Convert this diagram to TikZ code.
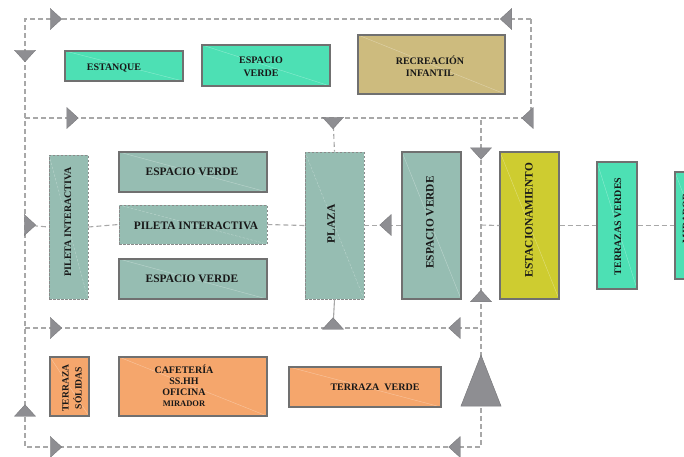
\documentclass[tikz,border=0pt]{standalone}
\usepackage{fontspec}
\setmainfont{Liberation Serif}
\usetikzlibrary{calc}
\definecolor{turq}{HTML}{4DE0B4}
\definecolor{grteal}{HTML}{96BDB2}
\definecolor{tan}{HTML}{CDBB7E}
\definecolor{olive}{HTML}{CECC30}
\definecolor{orng}{HTML}{F5A66C}
\definecolor{bgray}{HTML}{707070}
\definecolor{dgray}{HTML}{8A8A8A}
\definecolor{lgray}{HTML}{A8A8A8}
\definecolor{agray}{HTML}{8E8E92}
\definecolor{txt}{HTML}{181818}
\tikzset{
  dline/.style={draw=lgray, line width=1.1pt, dash pattern=on 5pt off 3pt},
  sline/.style={draw=lgray, line width=1.1pt},
  box/.style={draw=bgray, line width=1.3pt, inner sep=0pt,
    path picture={\draw[white, opacity=.35, line width=.4pt]
      (path picture bounding box.north west) -- (path picture bounding box.south east);}},
  dbox/.style={box, draw=dgray, line width=0.9pt, dash pattern=on 2.5pt off 1.5pt},
  lbl/.style={font=\fontsize{10}{11.7}\selectfont\bfseries, text=txt, inner sep=0pt, align=center},
  big/.style={lbl, font=\fontsize{11.4}{13}\selectfont\bfseries},
  tri/.pic={\filldraw[fill=agray, draw=agray!85!black, line width=0.4pt]
      (-5.75,-10.5) -- (5.75,0) -- (-5.75,10.5) -- cycle;}
}
\begin{document}
\begin{tikzpicture}[x=1pt,y=-1pt]
\useasboundingbox (0,0) rectangle (684,456);
\clip (0,0) rectangle (684,456);

% boxes
\node[box, fill=turq, minimum width=118pt, minimum height=30pt] (estanque) at (124,66) {};
\node[box, fill=turq, minimum width=128pt, minimum height=41pt] (ev1) at (266,65.5) {};
\node[box, fill=tan, minimum width=147pt, minimum height=59pt] (recre) at (431.5,64.5) {};
\node[dbox, fill=grteal, minimum width=39pt, minimum height=144pt] (pilv) at (68.5,227) {};
\node[box, fill=grteal, minimum width=148pt, minimum height=40pt] (ev2) at (193,172) {};
\node[dbox, fill=grteal, minimum width=148pt, minimum height=39pt] (pilh) at (193,224.5) {};
\node[box, fill=grteal, minimum width=148pt, minimum height=40pt] (ev3) at (193,279) {};
\node[dbox, fill=grteal, minimum width=59pt, minimum height=147pt] (plaza) at (334.5,225.5) {};
\node[box, fill=grteal, minimum width=59pt, minimum height=147pt] (ev4) at (431.5,225.5) {};
\node[box, fill=olive, minimum width=59pt, minimum height=147pt] (estac) at (529.5,225.5) {};
\node[box, fill=turq, minimum width=40pt, minimum height=127pt] (terr) at (617,225.5) {};
\node[box, fill=turq, minimum width=40pt, minimum height=107pt] (mir) at (695,225.5) {};
\node[box, fill=orng, minimum width=39pt, minimum height=59pt] (tsol) at (69.5,386.5) {};
\node[box, fill=orng, minimum width=148pt, minimum height=59pt] (cafe) at (193,386.5) {};
\node[box, fill=orng, minimum width=152pt, minimum height=40pt] (tverde) at (365,387) {};

% labels
\node[lbl] (estanque-t) at (114,68) {ESTANQUE};
\node[lbl, font=\fontsize{10}{12.5}\selectfont\bfseries] (ev1-t) at (261,67) {ESPACIO\\VERDE};
\node[lbl] (recre-t) at (430,66.5) {RECREACIÓN\\INFANTIL};
\node[lbl, rotate=90] (pilv-t) at (68,222) {PILETA INTERACTIVA};
\node[big] (ev2-t) at (192,171.5) {ESPACIO VERDE};
\node[big] (pilh-t) at (196,226) {PILETA INTERACTIVA};
\node[big] (ev3-t) at (192,278.5) {ESPACIO VERDE};
\node[big, rotate=90] (plaza-t) at (331,224) {PLAZA};
\node[big, rotate=90] (ev4-t) at (430,222.5) {ESPACIO VERDE};
\node[big, rotate=90] (estac-t) at (529,220) {ESTACIONAMIENTO};
\node[lbl, rotate=90] (terr-t) at (618,226.5) {TERRAZAS VERDES};
\node[lbl, rotate=90] (mir-t) at (686,218) {MIRADOR};
\node[lbl, rotate=90, font=\fontsize{9.6}{13}\selectfont\bfseries] (tsol-t) at (72,388) {TERRAZA\\SÓLIDAS};
\node[lbl, font=\fontsize{10}{11}\selectfont\bfseries] (cafe-t) at (184,385.5)
  {CAFETERÍA\\SS.HH\\OFICINA\\{\fontsize{8.5}{11}\selectfont MIRADOR}};
\node[lbl] (tverde-t) at (375,387.5) {TERRAZA\ \ VERDE};

% connector coordinates
\coordinate (TL) at (25,19);
\coordinate (TR) at (531,19);
\coordinate (R1) at (531,118);
\coordinate (L1) at (25,118);
\coordinate (M1) at (481,118);
\coordinate (P1) at (333,118);
\coordinate (L2) at (25,225);
\coordinate (M2) at (481,225);
\coordinate (L3) at (25,328);
\coordinate (M3) at (481,328);
\coordinate (P3) at (333,328);
\coordinate (BL) at (25,447);
\coordinate (BR) at (481,447);

\draw[dline] (TR) -- (TL) -- (BL) -- (BR) -- (M1);
\draw[dline] (TR) -- (R1) -- (L1);
\draw[dline] (L3) -- (M3);
\draw[dline] (P1) -- (plaza.north);
\draw[sline] (plaza.south) -- (P3);
\draw[dline] (L2) -- (pilv.west);
\draw[dline] (pilv.east) -- (pilh.west);
\draw[dline] (pilh.east) -- (plaza.west);
\draw[dline] (plaza.east) -- (ev4.west);
\draw[dline] (M2) -- (estac.west);
\draw[dline] (estac.east) -- (terr.west);
\draw[dline] (terr.east) -- (mir.west);

% arrows
\pic at (56,19) {tri};
\pic[rotate=180] at (506,19) {tri};
\pic[rotate=-90] at (25,56) {tri};
\pic at (72.5,118) {tri};
\pic[rotate=180] at (527.5,118) {tri};
\pic[rotate=-90] at (333,123) {tri};
\pic[rotate=-90] at (481,153.5) {tri};
\pic at (30,225) {tri};
\pic[rotate=180] at (385.5,225) {tri};
\pic[rotate=90] at (481,296) {tri};
\pic at (56,328) {tri};
\pic[rotate=180] at (454.5,328) {tri};
\pic[rotate=90] at (333,323.5) {tri};
\pic[rotate=90] at (25,410.5) {tri};
\pic at (56,447) {tri};
\pic[rotate=180] at (454.5,447) {tri};

% large triangle
\filldraw[fill=agray, draw=agray!85!black, line width=0.5pt] (481,355) -- (501,406) -- (461,406) -- cycle;
\end{tikzpicture}
\end{document}
